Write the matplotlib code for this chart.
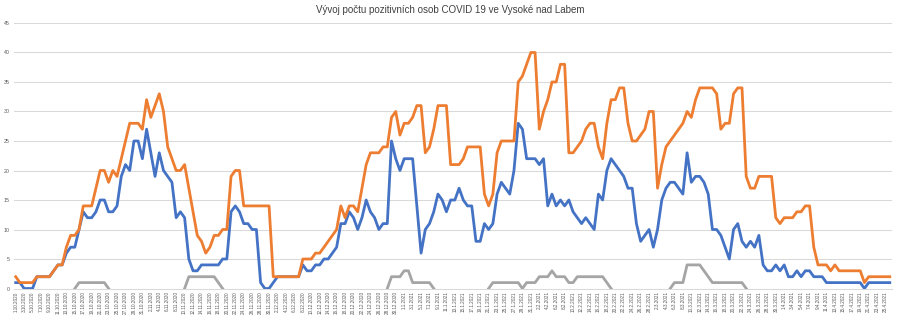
import numpy as np
import pandas as pd
import matplotlib
matplotlib.use('Agg')
import matplotlib.pyplot as plt

# dny od 1.10.2020 do 26.4.2021
dates = pd.date_range('2020-10-01', '2021-04-26', freq='D')
day_labels = [f'{d.day}.{d.month}.{d.year}' for d in dates]

blue_vals = [
    1, 1, 0, 0, 0, 2, 2, 2, 2, 3,
    4, 4, 6, 7, 7, 10, 13, 12, 12, 13,
    15, 15, 13, 13, 14, 19, 21, 20, 25, 25,
    22, 27, 23, 19, 23, 20, 19, 18, 12, 13,
    12, 5, 3, 3, 4, 4, 4, 4, 4, 5,
    5, 13, 14, 13, 11, 11, 10, 10, 1, 0,
    0, 1, 2, 2, 2, 2, 2, 2, 4, 3,
    3, 4, 4, 5, 5, 6, 7, 11, 11, 13,
    12, 10, 12, 15, 13, 12, 10, 11, 11, 25,
    22, 20, 22, 22, 22, 14, 6, 10, 11, 13,
    16, 15, 13, 15, 15, 17, 15, 14, 14, 8,
    8, 11, 10, 11, 16, 18, 17, 16, 20, 28,
    27, 22, 22, 22, 21, 22, 14, 16, 14, 15,
    14, 15, 13, 12, 11, 12, 11, 10, 16, 15,
    20, 22, 21, 20, 19, 17, 17, 11, 8, 9,
    10, 7, 10, 15, 17, 18, 18, 17, 16, 23,
    18, 19, 19, 18, 16, 10, 10, 9, 7, 5,
    10, 11, 8, 7, 8, 7, 9, 4, 3, 3,
    4, 3, 4, 2, 2, 3, 2, 3, 3, 2,
    2, 2, 1, 1, 1, 1, 1, 1, 1, 1,
    1, 0, 1, 1, 1, 1, 1, 1,
]

orange_vals = [
    2, 1, 1, 1, 1, 2, 2, 2, 2, 3,
    4, 4, 7, 9, 9, 10, 14, 14, 14, 17,
    20, 20, 18, 20, 19, 22, 25, 28, 28, 28,
    27, 32, 29, 31, 33, 30, 24, 22, 20, 20,
    21, 17, 13, 9, 8, 6, 7, 9, 9, 10,
    10, 19, 20, 20, 14, 14, 14, 14, 14, 14,
    14, 2, 2, 2, 2, 2, 2, 2, 5, 5,
    5, 6, 6, 7, 8, 9, 10, 14, 12, 14,
    14, 13, 17, 21, 23, 23, 23, 24, 24, 29,
    30, 26, 28, 28, 29, 31, 31, 23, 24, 27,
    31, 31, 31, 21, 21, 21, 22, 24, 24, 24,
    24, 16, 14, 16, 23, 25, 25, 25, 25, 35,
    36, 38, 40, 40, 27, 30, 32, 35, 35, 38,
    38, 23, 23, 24, 25, 27, 28, 28, 24, 22,
    28, 32, 32, 34, 34, 28, 25, 25, 26, 27,
    30, 30, 17, 21, 24, 25, 26, 27, 28, 30,
    29, 32, 34, 34, 34, 34, 33, 27, 28, 28,
    33, 34, 34, 19, 17, 17, 19, 19, 19, 19,
    12, 11, 12, 12, 12, 13, 13, 14, 14, 7,
    4, 4, 4, 3, 4, 3, 3, 3, 3, 3,
    3, 1, 2, 2, 2, 2, 2, 2,
]

gray_vals = [
    0, 0, 0, 0, 0, 0, 0, 0, 0, 0,
    0, 0, 0, 0, 0, 1, 1, 1, 1, 1,
    1, 1, 0, 0, 0, 0, 0, 0, 0, 0,
    0, 0, 0, 0, 0, 0, 0, 0, 0, 0,
    0, 2, 2, 2, 2, 2, 2, 2, 1, 0,
    0, 0, 0, 0, 0, 0, 0, 0, 0, 0,
    0, 0, 0, 0, 0, 0, 0, 0, 0, 0,
    0, 0, 0, 0, 0, 0, 0, 0, 0, 0,
    0, 0, 0, 0, 0, 0, 0, 0, 0, 2,
    2, 2, 3, 3, 1, 1, 1, 1, 1, 0,
    0, 0, 0, 0, 0, 0, 0, 0, 0, 0,
    0, 0, 0, 1, 1, 1, 1, 1, 1, 1,
    0, 1, 1, 1, 2, 2, 2, 3, 2, 2,
    2, 1, 1, 2, 2, 2, 2, 2, 2, 2,
    1, 0, 0, 0, 0, 0, 0, 0, 0, 0,
    0, 0, 0, 0, 0, 0, 1, 1, 1, 4,
    4, 4, 4, 3, 2, 1, 1, 1, 1, 1,
    1, 1, 1, 0, 0, 0, 0, 0, 0, 0,
    0, 0, 0, 0, 0, 0, 0, 0, 0, 0,
    0, 0, 0, 0, 0, 0, 0, 0, 0, 0,
    0, 0, 0, 0, 0, 0, 0, 0,
]

title = 'Vývoj počtu pozitivních osob COVID 19 ve Vysoké nad Labem'

plt.rcParams['font.family'] = ['Liberation Sans Narrow', 'Liberation Sans', 'DejaVu Sans']

fig = plt.figure(figsize=(9, 3.27), dpi=100)
ax = fig.add_axes([0.0151, 0.1177, 0.9759, 0.812])

x = np.arange(len(day_labels))

# šedá řada - nulové úseky nejsou v originále vidět
g = np.array(gray_vals, dtype=float)
prev = np.r_[0, g[:-1]]
nxt = np.r_[g[1:], 0]
g[(g == 0) & (prev == 0) & (nxt == 0)] = np.nan

ax.plot(x, blue_vals, color='#4472C4', lw=2.0, solid_joinstyle='round', zorder=3)
ax.plot(x, orange_vals, color='#ED7D31', lw=2.0, solid_joinstyle='round', zorder=4)
ax.plot(x, g, color='#A5A5A5', lw=2.0, solid_joinstyle='round', zorder=5)

ax.set_xlim(-0.5, len(x) - 0.5)
ax.set_ylim(0, 45)
ax.set_yticks(range(0, 46, 5))
ax.set_xticks(x[::2])
ax.set_xticklabels(day_labels[::2], rotation=90)

ax.grid(axis='y', color='#D9D9D9', lw=0.75)
ax.set_axisbelow(True)
for s in ['top', 'right', 'left']:
    ax.spines[s].set_visible(False)
ax.spines['bottom'].set_color('#D9D9D9')
ax.spines['bottom'].set_linewidth(0.75)

ax.tick_params(axis='x', length=0, pad=2, labelsize=3.3, labelcolor='#595959')
ax.tick_params(axis='y', length=0, pad=3, labelsize=3.8, labelcolor='#595959')

fig.text(0.5, 0.969, title, ha='center', va='center', fontsize=7, color='#404040')

fig.savefig('out.png', dpi=100)
